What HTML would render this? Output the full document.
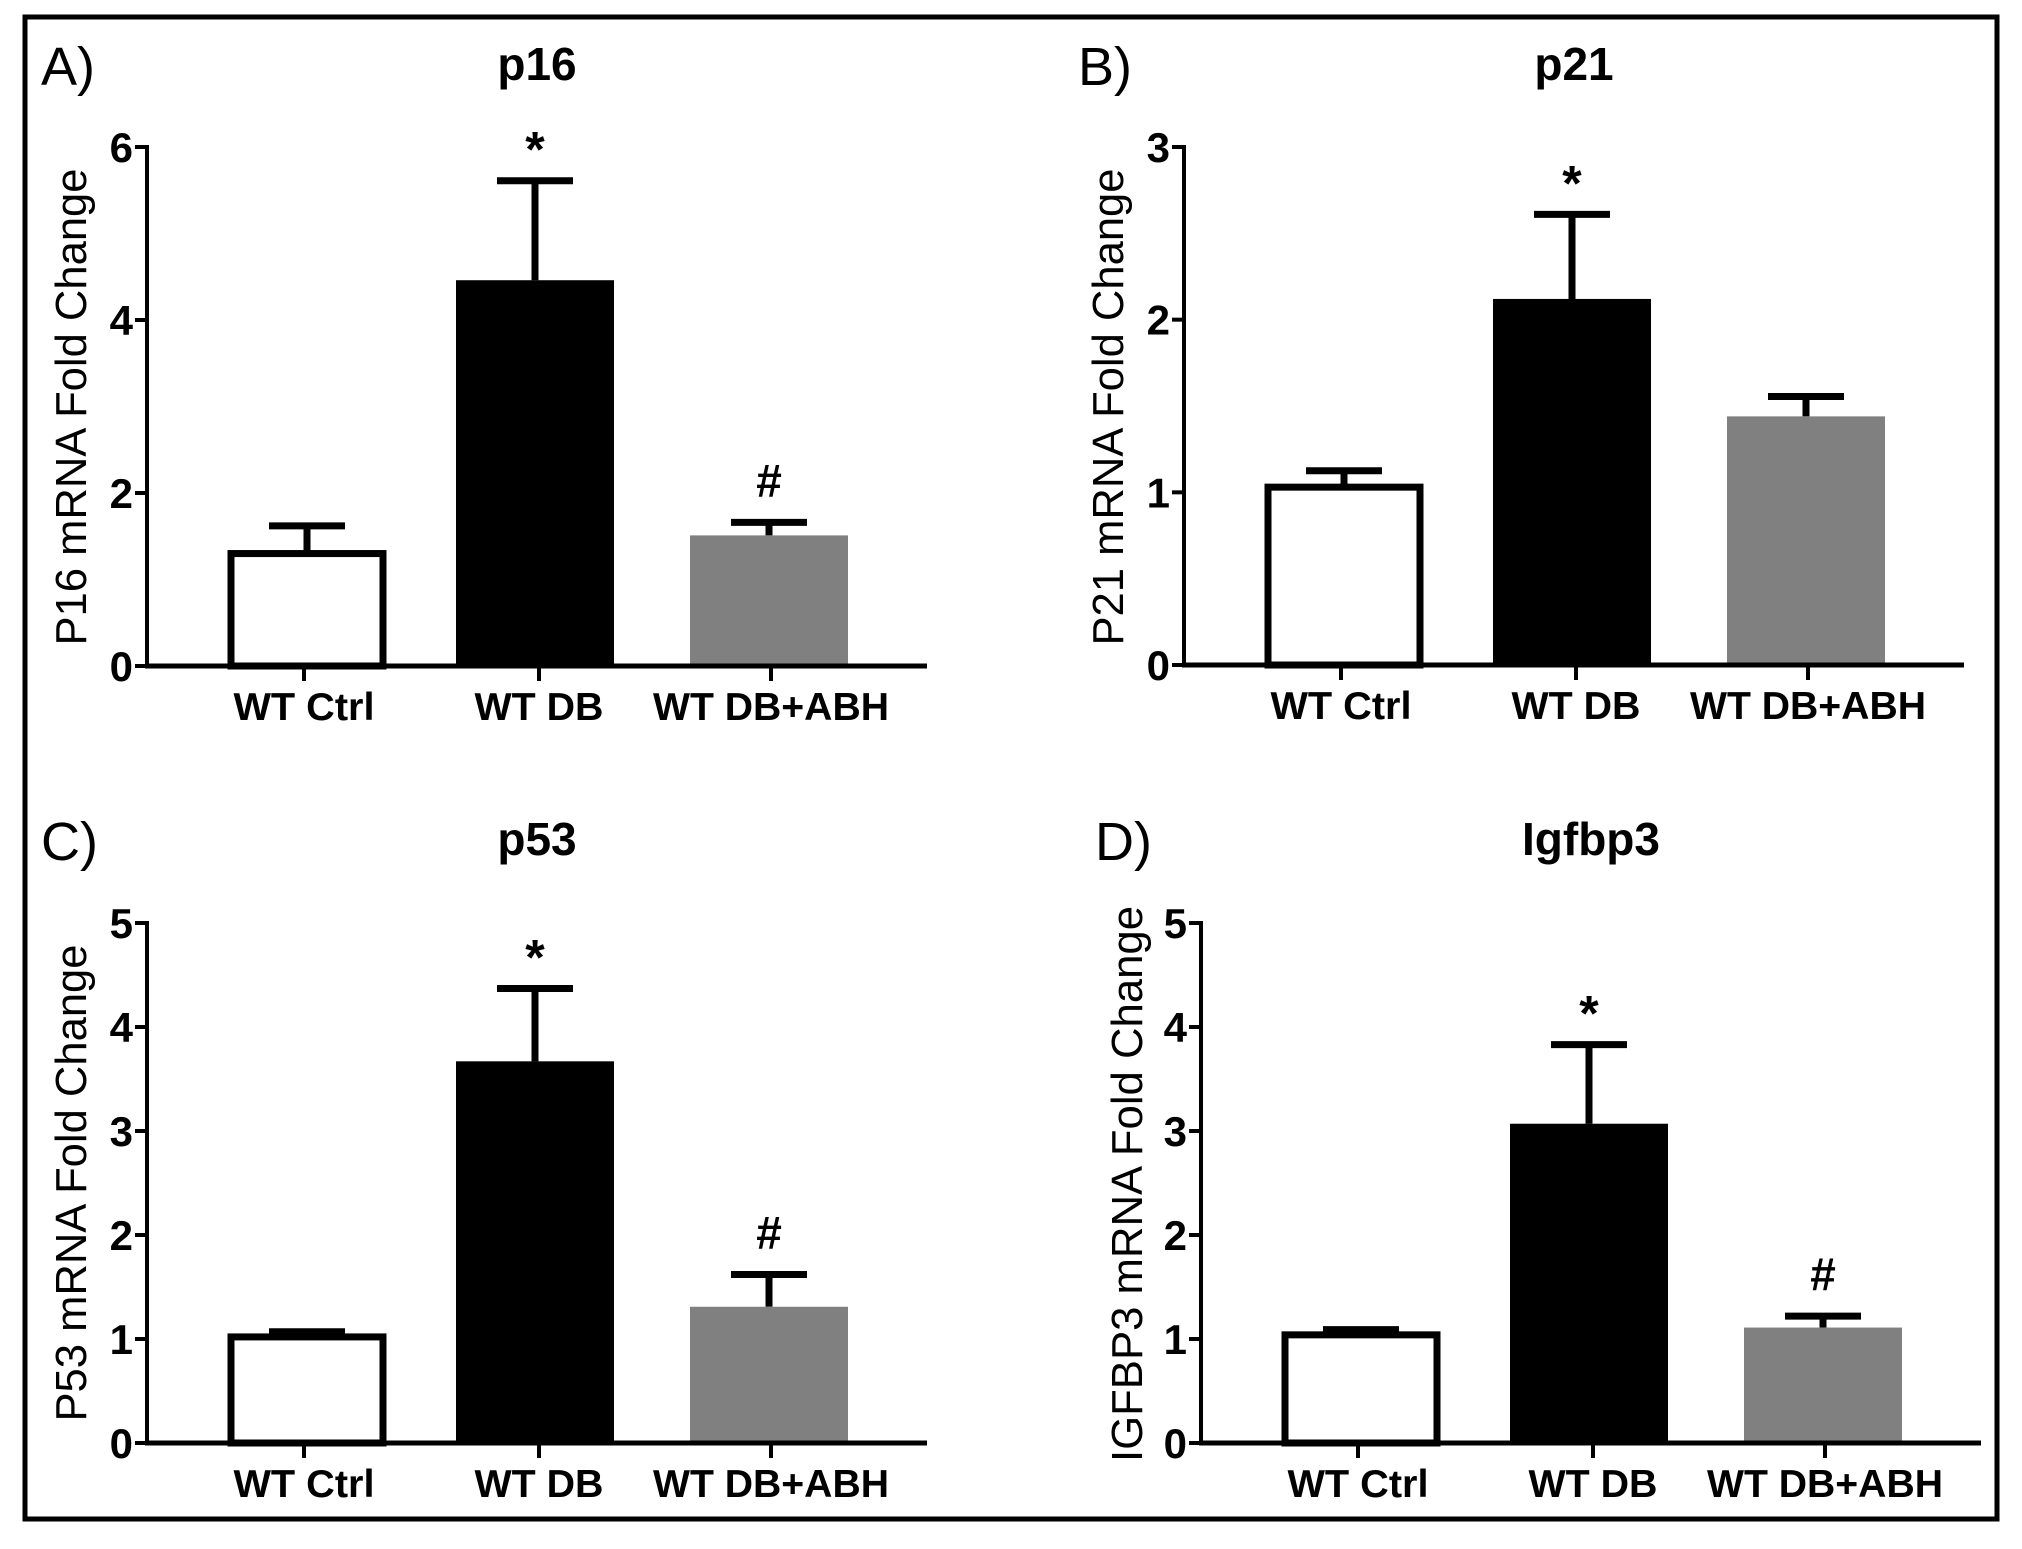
<!DOCTYPE html>
<html><head><meta charset="utf-8"><style>
html,body{margin:0;padding:0;background:#fff;}
svg{display:block;font-family:"Liberation Sans",Arial,sans-serif;}
</style></head><body>
<svg id="fig" width="2022" height="1549" viewBox="0 0 2022 1549" xmlns="http://www.w3.org/2000/svg">
<rect x="25" y="17" width="1972" height="1502" fill="none" stroke="#000" stroke-width="5"/>
</svg>
<script>
const categories = ["WT Ctrl", "WT DB", "WT DB+ABH"];
const p16Values = [1.30, 4.46, 1.51];
const p16Errors = [0.32, 1.15, 0.15];
const p21Values = [1.03, 2.12, 1.44];
const p21Errors = [0.095, 0.49, 0.115];
const p53Values = [1.02, 3.67, 1.31];
const p53Errors = [0.05, 0.70, 0.31];
const igfValues = [1.04, 3.07, 1.11];
const igfErrors = [0.05, 0.76, 0.11];
const p16Ticks = [0, 2, 4, 6];
const p21Ticks = [0, 1, 2, 3];
const p53Ticks = [0, 1, 2, 3, 4, 5];
const igfTicks = [0, 1, 2, 3, 4, 5];
const p16Marks = ["", "*", "#"];
const p21Marks = ["", "*", ""];
const p53Marks = ["", "*", "#"];
const igfMarks = ["", "*", "#"];

const NS = "http://www.w3.org/2000/svg";
const svg = document.getElementById("fig");
function mk(tag, attrs, parent) {
  const e = document.createElementNS(NS, tag);
  for (const k in attrs) e.setAttribute(k, attrs[k]);
  (parent || svg).appendChild(e);
  return e;
}
const fills = ["#fff", "#000", "#808080"];

function panel(o) {
  const g = mk("g", {});
  
  
  const ax = o.ax, y0 = o.y0, yTop = o.yTop, ymax = o.ticks[o.ticks.length - 1];
  const ys = v => y0 - (v / ymax) * (y0 - yTop);
  const barL = [81, 309, 543], barW = 158, tickX = [157, 392, 624];

  const let_ = mk("text", {x: ax - 106, y: o.titleY + 5, "font-size": 54}, g);
  
  
  let_.textContent = o.letter;

  const t = mk("text", {x: ax + 390, y: o.titleY, "font-size": 46, "font-weight": "bold", "text-anchor": "middle"}, g);
  
  
  t.textContent = o.title;

  const yl = mk("text", {x: 0, y: 0, "font-size": 44, "text-anchor": "middle",
    transform: `translate(${o.ylx},${o.yly}) rotate(-90)`, textLength: o.ylLen, lengthAdjust: "spacingAndGlyphs"}, g);
  
  
  yl.textContent = o.ylabel;

  o.values.forEach((v, i) => {
    const x = ax + barL[i], yt = ys(v), ye = ys(v + o.errors[i]);
    const cx = x + barW / 2;
    const el = mk("line", {x1: cx, x2: cx, y1: yt, y2: ye, stroke: "#000", "stroke-width": 7}, g);
    
    
    const cap = mk("line", {x1: cx - 38, x2: cx + 38, y1: ye, y2: ye, stroke: "#000", "stroke-width": 7}, g);
    
    
    let b;
    if (i === 0) b = mk("rect", {x: x + 3, y: yt, width: barW - 6, height: y0 - yt, fill: "#fff", stroke: "#000", "stroke-width": 7}, g);
    else b = mk("rect", {x: x, y: yt, width: barW, height: y0 - yt, fill: fills[i]}, g);
    
    
    if (o.marks[i]) {
      const star = o.marks[i] === "*";
      const m = mk("text", {x: cx, y: ye - (star ? 14 : 26), "font-size": star ? 50 : 46, "font-weight": "bold", "text-anchor": "middle"}, g);
      
      
      m.textContent = o.marks[i];
    }
  });

  const ya = mk("line", {x1: ax, x2: ax, y1: yTop - 2, y2: y0 + 2, stroke: "#000", "stroke-width": 4}, g);
  
  
  const xa = mk("line", {x1: ax - 2, x2: ax + 780, y1: y0, y2: y0, stroke: "#000", "stroke-width": 5}, g);
  
  
  o.ticks.forEach(tv => {
    const y = ys(tv);
    const tk = mk("line", {x1: ax - 12, x2: ax, y1: y, y2: y, stroke: "#000", "stroke-width": 4}, g);
    
    
    const tl = mk("text", {x: ax - 14, y: y + 15, "font-size": 42, "font-weight": "bold", "text-anchor": "end"}, g);
    
    
    tl.textContent = tv;
  });
  categories.forEach((c, i) => {
    const x = ax + tickX[i];
    const tk = mk("line", {x1: x, x2: x, y1: y0, y2: y0 + 15, stroke: "#000", "stroke-width": 4}, g);
    
    
    const lens = [141, 129, 236];
    const tl = mk("text", {x: x, y: y0 + 54, "font-size": 39, "font-weight": "bold", "text-anchor": "middle", textLength: lens[i], lengthAdjust: "spacingAndGlyphs"}, g);
    
    
    tl.textContent = c;
  });
}

panel({id: "p16", letter: "A)", title: "p16", ax: 147, y0: 666, yTop: 147, titleY: 80, ticks: p16Ticks, values: p16Values, errors: p16Errors, marks: p16Marks, ylabel: "P16 mRNA Fold Change", ylx: 86, yly: 407, ylLen: 477});
panel({id: "p21", letter: "B)", title: "p21", ax: 1184, y0: 665, yTop: 147, titleY: 80, ticks: p21Ticks, values: p21Values, errors: p21Errors, marks: p21Marks, ylabel: "P21 mRNA Fold Change", ylx: 1123, yly: 407, ylLen: 477});
panel({id: "p53", letter: "C)", title: "p53", ax: 147, y0: 1443, yTop: 923, titleY: 855, ticks: p53Ticks, values: p53Values, errors: p53Errors, marks: p53Marks, ylabel: "P53 mRNA Fold Change", ylx: 86, yly: 1183, ylLen: 477});
panel({id: "igfbp3", letter: "D)", title: "Igfbp3", ax: 1201, y0: 1443, yTop: 923, titleY: 855, ticks: igfTicks, values: igfValues, errors: igfErrors, marks: igfMarks, ylabel: "IGFBP3 mRNA Fold Change", ylx: 1142, yly: 1184, ylLen: 556});
</script>
</body></html>
